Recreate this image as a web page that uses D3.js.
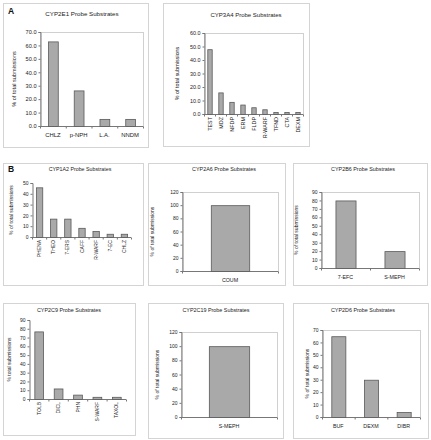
<!DOCTYPE html>
<html><head><meta charset="utf-8">
<script src="https://cdn.jsdelivr.net/npm/d3@7/dist/d3.min.js"></script>
<style>
body{margin:0;background:#fff;}
svg{display:block;font-family:"Liberation Sans",Arial,sans-serif;}
</style></head>
<body><svg id="c" width="431" height="440"></svg>
<script>
// ---- data ----
const cyp2e1Cats = ["CHLZ","p-NPH","L.A.","NNDM"];
const cyp2e1Vals = [63.0, 26.5, 5.3, 5.3];
const cyp2e1Ticks = [0,10,20,30,40,50,60,70];

const cyp3a4Cats = ["TEST","MDZ","NFDP","ERM","FLDP","R-WARF","TFND","CTA","DEXM"];
const cyp3a4Vals = [48.0, 16.0, 9.0, 7.0, 5.0, 3.5, 1.5, 1.5, 1.5];
const cyp3a4Ticks = [0,10,20,30,40,50,60];

const cyp1a2Cats = ["PHENA","THEO","7-ERS","CAFF","R-WARF","7-EC","CHLZ"];
const cyp1a2Vals = [46, 17, 17, 8.5, 5.5, 3, 3];
const cyp1a2Ticks = [0,10,20,30,40,50];

const cyp2a6Cats = ["COUM"];
const cyp2a6Vals = [100];
const cyp2a6Ticks = [0,20,40,60,80,100,120];

const cyp2b6Cats = ["7-EFC","S-MEPH"];
const cyp2b6Vals = [80, 20];
const cyp2b6Ticks = [0,10,20,30,40,50,60,70,80,90];

const cyp2c9Cats = ["TOLB","DICL","PHN","S-WARF","TAXOL"];
const cyp2c9Vals = [77, 12, 5, 2.5, 2.5];
const cyp2c9Ticks = [0,10,20,30,40,50,60,70,80,90];

const cyp2c19Cats = ["S-MEPH"];
const cyp2c19Vals = [100];
const cyp2c19Ticks = [0,20,40,60,80,100,120];

const cyp2d6Cats = ["BUF","DEXM","DIBR"];
const cyp2d6Vals = [65, 30, 4];
const cyp2d6Ticks = [0,10,20,30,40,50,60,70];

// ---- layout ----
const panels = [
 {title:"CYP2E1 Probe Substrates", cats:cyp2e1Cats, vals:cyp2e1Vals, ticks:cyp2e1Ticks, fmt:".1f",
  box:[3,3,145,144], plot:[40,32,143,126], tx:82, ty:16, tfs:6.2, yl:"% of total submissions", ylx:16, fs:5.6, rot:false, lby:137, bw:0.38, letter:"A", ly:14, plotBorder:true},
 {title:"CYP3A4 Probe Substrates", cats:cyp3a4Cats, vals:cyp3a4Vals, ticks:cyp3a4Ticks, fmt:".1f",
  box:[163,3,146,143], plot:[204,33,303,114], tx:246, ty:17, tfs:6.0, yl:"% of total submissions", ylx:179, fs:5.4, rot:true, lby:117, bw:0.4, plotBorder:true},
 {title:"CYP1A2 Probe Substrates", cats:cyp1a2Cats, vals:cyp1a2Vals, ticks:cyp1a2Ticks, fmt:"d",
  box:[3,163,140,122], plot:[32,183,131,237], tx:80, ty:171, tfs:5.3, yl:"% of total submissions", ylx:13, fs:5.0, rot:true, lby:240, bw:0.45, letter:"B", ly:172, plotBorder:false},
 {title:"CYP2A6 Probe Substrates", cats:cyp2a6Cats, vals:cyp2a6Vals, ticks:cyp2a6Ticks, fmt:"d",
  box:[148,163,137,122], plot:[182,192,278,271], tx:224, ty:171, tfs:5.4, yl:"% of total submissions", ylx:154, fs:5.0, rot:false, lby:282, bw:0.4, plotBorder:true},
 {title:"CYP2B6 Probe Substrates", cats:cyp2b6Cats, vals:cyp2b6Vals, ticks:cyp2b6Ticks, fmt:"d",
  box:[293,163,134,122], plot:[321,192,419,268], tx:363, ty:171, tfs:5.4, yl:"% of total submissions", ylx:298, fs:5.0, rot:false, lby:279, bw:0.41, plotBorder:true},
 {title:"CYP2C9 Probe Substrates", cats:cyp2c9Cats, vals:cyp2c9Vals, ticks:cyp2c9Ticks, fmt:"d",
  box:[3,303,132,132], plot:[29,320,126,399], tx:69, ty:312, tfs:5.4, yl:"% total submissions", ylx:11, fs:5.0, rot:true, lby:402, bw:0.45, plotBorder:false},
 {title:"CYP2C19 Probe Substrates", cats:cyp2c19Cats, vals:cyp2c19Vals, ticks:cyp2c19Ticks, fmt:"d",
  box:[148,303,135,135], plot:[181,332,277,417], tx:216, ty:312, tfs:5.4, yl:"% of total submissions", ylx:159, fs:5.0, rot:false, lby:428, bw:0.42, plotBorder:true},
 {title:"CYP2D6 Probe Substrates", cats:cyp2d6Cats, vals:cyp2d6Vals, ticks:cyp2d6Ticks, fmt:"d",
  box:[293,303,135,135], plot:[322,330,420,417], tx:363, ty:312, tfs:5.4, yl:"% of total submissions", ylx:309, fs:5.0, rot:false, lby:428, bw:0.43, plotBorder:true}
];

const svg = d3.select("#c");
const textCol = "#222";

panels.forEach(p => {
  const g = svg.append("g");
  const [bx,by,bw,bh] = p.box;
  g.append("rect").attr("x",bx+0.5).attr("y",by+0.5).attr("width",bw).attr("height",bh)
    .attr("fill","#fff").attr("stroke","#d4d4d4").attr("stroke-width",1);
  if (p.letter) {
    g.append("text").attr("x",bx+5).attr("y",p.ly).text(p.letter)
      .attr("font-size",8.5).attr("font-weight","bold").attr("fill","#111");
  }
  g.append("text").attr("x",p.tx).attr("y",p.ty).attr("text-anchor","middle")
    .attr("font-size",p.tfs).attr("fill",textCol).text(p.title);

  const [x0,y0,x1,y1] = p.plot;
  const ymax = p.ticks[p.ticks.length-1];
  const y = d3.scaleLinear().domain([0,ymax]).range([y1,y0]);
  const pad = 1 - p.bw;
  const x = d3.scaleBand().domain(p.cats).range([x0,x1]).paddingInner(pad).paddingOuter(pad/2);

  if (p.plotBorder) {
    g.append("rect").attr("x",x0+0.5).attr("y",y0+0.5).attr("width",x1-x0).attr("height",y1-y0)
      .attr("fill","none").attr("stroke","#d0d0d0").attr("stroke-width",1);
  }

  // y axis
  const yAxis = d3.axisLeft(y).tickValues(p.ticks).tickSize(2).tickPadding(2)
    .tickFormat(d3.format(p.fmt));
  const ya = g.append("g").attr("transform",`translate(${x0+0.5},0)`).call(yAxis);
  ya.selectAll("path,line").attr("stroke","#777");
  ya.selectAll("text").attr("font-size",p.fs).attr("fill",textCol).attr("font-family","Liberation Sans, Arial, sans-serif");

  // x axis line + boundary ticks
  const xa = g.append("g").attr("transform",`translate(0,${y1+0.5})`);
  xa.append("line").attr("x1",x0).attr("x2",x1).attr("y1",0).attr("y2",0).attr("stroke","#777");
  const step = x.step();
  const bounds = p.cats.map((c,i)=> x0 + i*step).concat([x1]);
  xa.selectAll("line.tk").data(bounds).enter().append("line").attr("class","tk")
    .attr("x1",d=>d+0.5).attr("x2",d=>d+0.5).attr("y1",0).attr("y2",2).attr("stroke","#777");

  // bars
  g.selectAll("rect.bar").data(p.cats).enter().append("rect").attr("class","bar")
    .attr("x",d=>x(d)+0.5).attr("width",x.bandwidth())
    .attr("y",(d,i)=>y(p.vals[i])+0.5).attr("height",(d,i)=>y1-y(p.vals[i]))
    .attr("fill","#a9a9a9").attr("stroke","#5a5a5a").attr("stroke-width",0.8);

  // x labels
  p.cats.forEach(c => {
    const cx = x(c) + x.bandwidth()/2;
    if (p.rot) {
      g.append("text").attr("transform",`translate(${cx+2},${p.lby}) rotate(-90)`)
        .attr("text-anchor","end").attr("font-size",p.fs).attr("fill",textCol).text(c);
    } else {
      g.append("text").attr("x",cx).attr("y",p.lby).attr("text-anchor","middle")
        .attr("font-size",p.fs+0.3).attr("fill",textCol).text(c);
    }
  });

  // y label
  g.append("text").attr("transform",`translate(${p.ylx},${(y0+y1)/2}) rotate(-90)`)
    .attr("text-anchor","middle").attr("font-size",p.fs).attr("fill",textCol).text(p.yl);
});
</script></body></html>
